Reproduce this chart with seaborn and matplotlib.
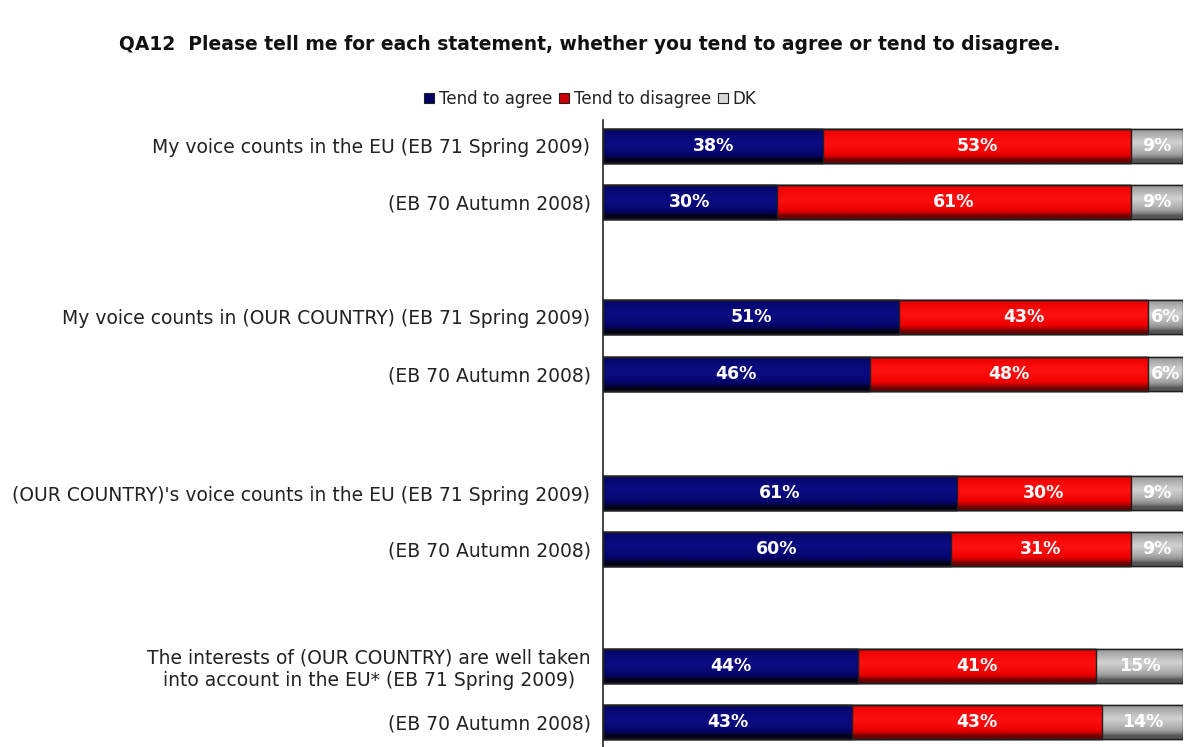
import numpy as np
import pandas as pd
import matplotlib
matplotlib.use("Agg")
import matplotlib.pyplot as plt
import seaborn as sns
from matplotlib.colors import LinearSegmentedColormap

categories = [
    "My voice counts in the EU (EB 71 Spring 2009)",
    "(EB 70 Autumn 2008)",
    "My voice counts in (OUR COUNTRY) (EB 71 Spring 2009)",
    "(EB 70 Autumn 2008) ",
    "(OUR COUNTRY)'s voice counts in the EU (EB 71 Spring 2009)",
    "(EB 70 Autumn 2008)  ",
    "The interests of (OUR COUNTRY) are well taken\ninto account in the EU* (EB 71 Spring 2009)",
    "(EB 70 Autumn 2008)   ",
]
agree = [38, 30, 51, 46, 61, 60, 44, 43]
disagree = [53, 61, 43, 48, 30, 31, 41, 43]
dk = [9, 9, 6, 6, 9, 9, 15, 14]
series_names = ["Tend to agree", "Tend to disagree", "DK"]

# layout (row positions along the category axis)
ypos = [0, 1, 3.05, 4.07, 6.2, 7.2, 9.28, 10.28]

df = pd.DataFrame({"cat": categories, "y": ypos, "agree": agree,
                   "disagree": disagree, "dk": dk})
df["c2"] = df["agree"] + df["disagree"]
df["c3"] = df["c2"] + df["dk"]

sns.set_theme(style="white")
plt.rcParams["font.family"] = ["DejaVu Sans"]

fig = plt.figure(figsize=(11.86, 7.47), dpi=100)
ax = fig.add_axes([603 / 1186, 0.0, 580 / 1186, 1 - 120 / 747])

base_cols = ["#05056e", "#ee0000", "#a0a0a0"]
edge_cols = ["#000018", "#700000", "#555555"]
mid_cols = ["#0c0c82", "#ff1010", "#d0d0d0"]

layers = [("c3", 2), ("c2", 1), ("agree", 0)]
for col, ci in layers:
    sns.barplot(data=df, x=col, y="y", orient="h", native_scale=True,
                color=base_cols[ci], saturation=1, width=0.61,
                edgecolor="#202020", linewidth=1.0, ax=ax)

# gradient shading clipped to each bar segment
patches = list(ax.patches)
n = len(df)
grad = np.linspace(0, 1, 64)
grad = 1 - np.abs(grad - 0.42) * 2.1
grad = np.clip(grad, 0, 1) ** 0.6
for li, (col, ci) in enumerate(layers):
    cmap = LinearSegmentedColormap.from_list(
        "g%d" % ci, [edge_cols[ci], base_cols[ci], mid_cols[ci]])
    for p in patches[li * n:(li + 1) * n]:
        x0, y0 = p.get_x(), p.get_y()
        w, h = p.get_width(), p.get_height()
        im = ax.imshow(grad.reshape(-1, 1), cmap=cmap, aspect="auto",
                       extent=[x0, x0 + w, y0 + h, y0], zorder=p.get_zorder() + 0.1,
                       interpolation="bicubic")
        im.set_clip_path(p)
        p2 = plt.Rectangle((x0, y0), w, h, fill=False, edgecolor="#202020",
                           linewidth=1.0, zorder=p.get_zorder() + 0.2)
        ax.add_patch(p2)

# value labels
for _, r in df.iterrows():
    segs = [(0, r["agree"]), (r["agree"], r["disagree"]), (r["c2"], r["dk"])]
    for s, v in segs:
        ax.text(s + v / 2, r["y"], f"{int(v)}%", ha="center", va="center",
                color="white", fontsize=12.5, fontweight="bold", zorder=10)

ax.set_xlim(0, 100)
ax.set_ylim(10.73, -0.46)
ax.set_yticks(ypos)
ax.set_yticklabels([c.strip() for c in categories], fontsize=13.5,
                   color="#222222", multialignment="center")
ax.tick_params(axis="y", length=0, pad=9)
ax.set_xticks([])
ax.set_xlabel("")
ax.set_ylabel("")
for s in ["top", "right", "bottom"]:
    ax.spines[s].set_visible(False)
ax.spines["left"].set_color("#222222")
ax.spines["left"].set_linewidth(1.2)

fig.text(590 / 1186, 1 - 44 / 747,
         "QA12  Please tell me for each statement, whether you tend to agree or tend to disagree.",
         ha="center", va="center", fontsize=13.5, fontweight="bold", color="#111111")

handles = [plt.Rectangle((0, 0), 1, 1, facecolor=c, edgecolor="#202020", linewidth=0.8)
           for c in ["#000066", "#cc0000", "#d8d8d8"]]
fig.legend(handles, series_names, loc="center", bbox_to_anchor=(590 / 1186, 1 - 99 / 747),
           ncol=3, frameon=False, fontsize=12, handlelength=0.6, handleheight=0.6,
           handletextpad=0.3, columnspacing=0.4, labelcolor="#222222")

fig.savefig("out.png", dpi=100)
